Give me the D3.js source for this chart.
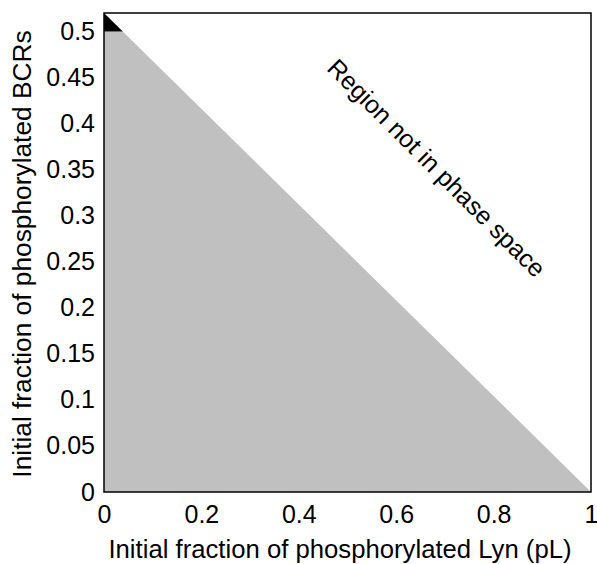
<!DOCTYPE html>
<html><head><meta charset="utf-8">
<script src="https://cdn.jsdelivr.net/npm/d3@7"></script>
<style>body{margin:0;background:#fff}text{font-family:"Liberation Sans",Arial,sans-serif}</style>
</head><body>
<script>
// Data
const xTicks = [0, 0.2, 0.4, 0.6, 0.8, 1];
const xTickLabels = ["0", "0.2", "0.4", "0.6", "0.8", "1"];
const yTicks = [0, 0.05, 0.1, 0.15, 0.2, 0.25, 0.3, 0.35, 0.4, 0.45, 0.5];
const yTickLabels = ["0", "0.05", "0.1", "0.15", "0.2", "0.25", "0.3", "0.35", "0.4", "0.45", "0.5"];
const xDomain = [0, 1];
const yDomain = [0, 0.52];
// gray region (pL, pB)
const grayRegionX = [0, 1, 0.0385, 0];
const grayRegionY = [0, 0, 0.5, 0.5];
// black region
const blackRegionX = [0, 0.0385, 0];
const blackRegionY = [0.5, 0.5, 0.52];
const xLabel = "Initial fraction of phosphorylated Lyn (pL)";
const yLabel = "Initial fraction of phosphorylated BCRs";
const annotation = "Region not in phase space";

const W = 597, H = 564;
const m = {left: 104, right: 6, top: 13, bottom: 72};
const svg = d3.select("body").append("svg").attr("width", W).attr("height", H);
const x = d3.scaleLinear().domain(xDomain).range([m.left, W - m.right]);
const y = d3.scaleLinear().domain(yDomain).range([H - m.bottom, m.top]);

const line = d3.line().x(d => x(d[0])).y(d => y(d[1]));
svg.append("path").attr("d", line(grayRegionX.map((v, i) => [v, grayRegionY[i]])) + "Z").attr("fill", "#c0c0c0");
svg.append("path").attr("d", line(blackRegionX.map((v, i) => [v, blackRegionY[i]])) + "Z").attr("fill", "#000");

svg.append("rect").attr("x", x(0)).attr("y", y(yDomain[1])).attr("width", x(1) - x(0)).attr("height", y(0) - y(yDomain[1]))
  .attr("fill", "none").attr("stroke", "#000").attr("stroke-width", 1.5);

const fs = 25, tfs = 25.7;
const xa = svg.append("g").attr("transform", `translate(0,${y(0)})`)
  .call(d3.axisBottom(x).tickValues(xTicks).tickFormat((d, i) => xTickLabels[i]).tickSize(0).tickPadding(13));
xa.select(".domain").remove();
xa.selectAll("text").attr("font-size", fs).attr("fill", "#000").style("font-family", "Liberation Sans, Arial, sans-serif");
const ya = svg.append("g").attr("transform", `translate(${x(0)},0)`)
  .call(d3.axisLeft(y).tickValues(yTicks).tickFormat((d, i) => yTickLabels[i]).tickSize(0).tickPadding(9));
ya.select(".domain").remove();
ya.selectAll("text").attr("font-size", fs).attr("fill", "#000").style("font-family", "Liberation Sans, Arial, sans-serif");

svg.append("text").attr("x", 340).attr("y", 558).attr("text-anchor", "middle").attr("font-size", tfs).text(xLabel);
svg.append("text").attr("transform", `translate(31,254) rotate(-90)`).attr("text-anchor", "middle").attr("font-size", 26.3).text(yLabel);
svg.append("text").attr("transform", `translate(${x(0.68)},${y(0.35)}) rotate(45)`).attr("text-anchor", "middle").attr("dominant-baseline", "middle").attr("font-size", fs).text(annotation);
</script>
</body></html>
